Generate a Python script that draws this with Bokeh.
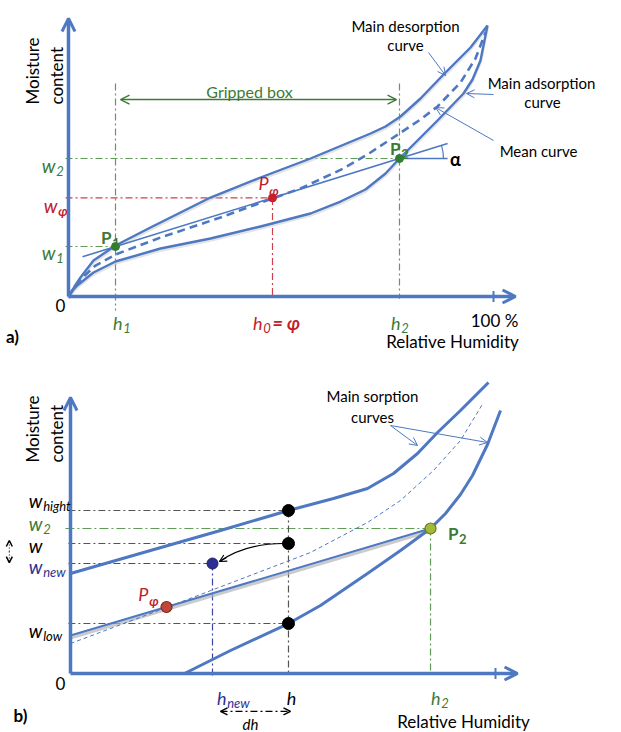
import math
from bokeh.plotting import figure
from bokeh.models import Range1d, Label, Arrow, OpenHead
from bokeh.layouts import column
from bokeh.embed import file_html
from bokeh.resources import INLINE

FONT = "Lato"
BLUE = "#4e78c2"
GREEN_T = "#3d7a35"
GREEN_L = "#5f9c55"
GREEN_P = "#2f7d32"
RED_T = "#c0202a"
RED_L = "#d0404c"
NAVY = "#2e3192"
NAVY_L = "#3d45a8"
GRAY_L = "#555555"
DASHDOT = "7 3 2 3"

# ---------------- Panel a data (x: relative humidity %, y: moisture content, a.u.)
a_rh_des = [0, 1.41, 2.82, 5.88, 11.06, 19.29, 33.41, 45.18, 56.94, 71.06, 74.59, 78.12, 82.82, 88.24, 94.59, 98.59]
a_w_des = [0, 2.35, 4.47, 8.47, 12.0, 16.24, 23.29, 28.0, 32.47, 38.35, 40.0, 42.35, 46.59, 52.24, 58.59, 63.76]
a_rh_ads = [0, 0.94, 2.35, 5.88, 11.06, 21.65, 33.41, 45.18, 56.94, 64.0, 69.88, 74.59, 77.88, 82.82, 86.82, 92.94, 95.06, 96.94, 98.59]
a_w_ads = [0, 1.41, 2.82, 5.65, 8.24, 11.29, 13.65, 16.47, 19.53, 22.35, 25.18, 28.94, 32.47, 37.41, 41.41, 47.76, 51.06, 55.53, 63.76]
a_rh_mean = [0, 1.41, 2.82, 6.35, 11.06, 21.65, 35.76, 48.0, 54.59, 64.71, 71.06, 77.88, 82.82, 86.82, 92.24, 95.76, 98.12]
a_w_mean = [0, 2.12, 4.0, 7.29, 9.88, 13.88, 18.59, 23.06, 25.41, 30.12, 33.88, 38.35, 41.65, 44.71, 50.35, 56.0, 62.12]
a_chord_rh = [3.3, 89.2]
a_chord_w = [9.35, 35.98]
a_P1 = (11.06, 11.76)
a_P2 = (77.88, 32.47)
a_Pphi = (48.0, 23.2)
a_alpha = 0.297          # slope angle of the chord (rad)
a_xmax = 105.18
a_ymax = 65.41

# ---------------- Panel b data
b_rh_des = [0, 18.82, 35.29, 51.29, 61.88, 69.88, 76.0, 81.65, 86.35, 91.76, 98.35]
b_w_des = [23.53, 28.94, 33.65, 38.35, 41.18, 43.53, 47.06, 51.76, 56.71, 61.88, 68.47]
b_rh_ads = [26.82, 37.65, 51.29, 58.82, 69.88, 77.65, 84.71, 88.24, 91.76, 94.59, 98.12, 101.18]
b_w_ads = [0, 5.41, 11.76, 16.0, 23.53, 28.94, 34.12, 37.65, 42.12, 46.59, 53.88, 61.88]
b_rh_mean = [0, 22.59, 33.65, 56.47, 69.88, 77.65, 85.41, 91.76, 97.18]
b_w_mean = [7.06, 15.53, 19.76, 28.47, 35.53, 40.71, 47.76, 54.82, 63.76]
b_chord_rh = [0, 84.71]
b_chord_w = [8.94, 34.12]
b_P2 = (84.71, 34.12)
b_Pphi = (22.59, 15.65)
b_h = 51.29
b_w_high = 38.35
b_w = 30.59
b_w_low = 11.76
b_h_new = 33.41
b_w_new = 25.88
b_xmax = 105.18
b_ymax = 64.94


def make_fig(h, xr, yr):
    p = figure(width=621, height=h, x_range=Range1d(*xr), y_range=Range1d(*yr),
               output_backend="svg", toolbar_location=None, min_border=0,
               x_axis_location=None, y_axis_location=None)
    p.grid.visible = False
    p.outline_line_color = None
    p.background_fill_color = "white"
    p.border_fill_color = "white"
    return p


def txt(p, x, y, s, size=17, color="black", style="normal", align="left",
        baseline="alphabetic", angle=0.0):
    p.add_layout(Label(x=x, y=y, text=s, text_font=FONT, text_font_size=f"{size}px",
                       text_color=color, text_font_style=style, text_align=align,
                       text_baseline=baseline, angle=angle))


def sub(p, x, y, main, s, color, mstyle="italic", sstyle="italic", size=19, ssize=13, drop=1.2):
    txt(p, x, y, main, size, color, mstyle, "right")
    txt(p, x + 0.15, y - drop, s, ssize, color, sstyle, "left")


def arrow(p, x0, y0, x1, y1, color, width=1.0, size=8, both=False, dash="solid", hw=None):
    hw = hw if hw is not None else width
    end = OpenHead(size=size, line_color=color, line_width=hw)
    start = OpenHead(size=size, line_color=color, line_width=hw) if both else None
    p.add_layout(Arrow(x_start=x0, y_start=y0, x_end=x1, y_end=y1, line_color=color,
                       line_width=width, line_dash=dash, end=end, start=start))


def shadow(vals, d):
    return [v - d for v in vals]


# =============== Panel a ===============
pa = make_fig(352, (-16.0, 130.118), (-13.176, 69.647))

# dash-dot guides
pa.line([a_P1[0], a_P1[0]], [50.12, -3.3], line_color=GREEN_L, line_width=1.2, line_dash=DASHDOT)
pa.line([a_P2[0], a_P2[0]], [50.12, -0.5], line_color=GREEN_L, line_width=1.2, line_dash=DASHDOT)
pa.line([-0.7, a_P2[0]], [a_P2[1], a_P2[1]], line_color=GREEN_L, line_width=1.2, line_dash=DASHDOT)
pa.line([-0.7, a_P1[0]], [a_P1[1], a_P1[1]], line_color=GREEN_L, line_width=1.2, line_dash=DASHDOT)
pa.line([-0.7, a_Pphi[0]], [a_Pphi[1], a_Pphi[1]], line_color=RED_L, line_width=1.2, line_dash=DASHDOT)
pa.line([a_Pphi[0], a_Pphi[0]], [a_Pphi[1], 0], line_color=RED_L, line_width=1.2, line_dash=DASHDOT)

# shadows
for xs, ys in ((a_rh_des, a_w_des), (a_rh_ads, a_w_ads)):
    pa.line(xs, shadow(ys, 0.45), line_color="#c9c9c9", line_width=3, line_alpha=0.5)

# curves
pa.line(a_rh_des, a_w_des, line_color=BLUE, line_width=2.4, line_join="round")
pa.line(a_rh_ads, a_w_ads, line_color=BLUE, line_width=2.4, line_join="round")
pa.line(a_rh_mean, a_w_mean, line_color=BLUE, line_width=2.6, line_dash="8 5")
pa.line(a_chord_rh, a_chord_w, line_color=BLUE, line_width=1.6)
pa.line([a_P2[0], a_chord_rh[1]], [a_P2[1], a_P2[1]], line_color=BLUE, line_width=1.4)
pa.arc(x=[a_P2[0]], y=[a_P2[1]], radius=10.35, start_angle=0, end_angle=a_alpha,
       line_color=BLUE, line_width=1.2)

# axes
arrow(pa, 0, 0, 0, a_ymax, BLUE, width=3.5, size=13, hw=3)
arrow(pa, 0, 0, a_xmax, 0, BLUE, width=3.5, size=13, hw=3)
pa.line([100, 100], [-1.3, 1.3], line_color=BLUE, line_width=2)

# gripped box
arrow(pa, 12.24, 46.35, 77.18, 46.35, GREEN_T, width=1.4, size=9, both=True)

# points
pa.scatter([a_P1[0], a_P2[0]], [a_P1[1], a_P2[1]], size=8, fill_color=GREEN_P, line_color=GREEN_P)
pa.scatter([a_Pphi[0]], [a_Pphi[1]], size=8, fill_color="#cc1f2b", line_color="#cc1f2b")

# annotation pointers
arrow(pa, 84.71, 57.41, 88.71, 52.0, BLUE, width=1, size=8)
arrow(pa, 100.0, 47.53, 93.65, 47.76, BLUE, width=1, size=8)
arrow(pa, 100.0, 36.71, 86.35, 44.47, BLUE, width=1, size=8)

# texts
txt(pa, -8.47, 45.18, "Moisture", 17, angle=math.pi / 2)
txt(pa, -2.82, 45.18, "content", 17, angle=math.pi / 2)
txt(pa, -1.88, -2.12, "0", 17, align="center", baseline="middle")
txt(pa, -13.18, -9.41, "a)", 17, style="bold", align="center", baseline="middle")
sub(pa, 12.71, -6.12, "h", "1", GREEN_T, size=18)
sub(pa, 45.65, -6.12, "h", "0", RED_T, size=18)
txt(pa, 48.0, -6.12, "= φ", 18, RED_T, "bold italic")
sub(pa, 78.12, -6.12, "h", "2", GREEN_T, size=18)
txt(pa, 100.24, -5.65, "100 %", 17, align="center")
txt(pa, 90.35, -10.6, "Relative Humidity", 17, align="center")
txt(pa, 42.59, 48.3, "Gripped box", 16, GREEN_T, align="center")
sub(pa, -3.06, 30.82, "w", "2", GREEN_T)
sub(pa, -2.59, 21.41, "w", "φ", RED_T, sstyle="bold italic")
sub(pa, -3.06, 10.35, "w", "1", GREEN_T)
sub(pa, 10.12, 13.88, "P", "1", GREEN_T, mstyle="bold", sstyle="bold", size=17)
sub(pa, 47.06, 26.82, "P", "φ", RED_T, sstyle="bold italic", size=18, drop=1.9)
sub(pa, 78.12, 34.82, "P", "2", GREEN_T, mstyle="bold", sstyle="bold", size=17)
txt(pa, 91.06, 32.24, "α", 18, style="bold", align="center")
txt(pa, 79.29, 63.76, "Main desorption", 15, align="center")
txt(pa, 79.29, 59.06, "curve", 15, align="center")
txt(pa, 111.29, 50.35, "Main adsorption", 15, align="center")
txt(pa, 111.53, 45.65, "curve", 15, align="center")
txt(pa, 110.59, 34.35, "Mean curve", 15, align="center")

# =============== Panel b ===============
pb = make_fig(380, (-16.471, 129.647), (-13.882, 75.529))

# dash-dot guides
pb.line([-0.5, b_h], [b_w_high, b_w_high], line_color=GRAY_L, line_width=1.2, line_dash=DASHDOT)
pb.line([-1.2, b_P2[0]], [b_P2[1], b_P2[1]], line_color=GREEN_L, line_width=1.2, line_dash="9 3 2 3")
pb.line([-0.5, b_h], [b_w, b_w], line_color=GRAY_L, line_width=1.2, line_dash=DASHDOT)
pb.line([-0.5, b_h_new], [b_w_new, b_w_new], line_color=NAVY_L, line_width=1.2, line_dash=DASHDOT)
pb.line([-0.5, b_h], [b_w_low, b_w_low], line_color=GRAY_L, line_width=1.2, line_dash=DASHDOT)
pb.line([b_h, b_h], [b_w_high, 0], line_color=GRAY_L, line_width=1.2, line_dash=DASHDOT)
pb.line([b_h_new, b_h_new], [b_w_new, -0.5], line_color=NAVY_L, line_width=1.2, line_dash=DASHDOT)
pb.line([b_P2[0], b_P2[0]], [b_P2[1], 0], line_color=GREEN_L, line_width=1.2, line_dash=DASHDOT)

# curves
pb.line(b_chord_rh, shadow(b_chord_w, 0.6), line_color="#b5b5b5", line_width=3.2, line_alpha=0.7)
pb.line(b_rh_des, b_w_des, line_color=BLUE, line_width=3, line_join="round")
pb.line(b_rh_ads, b_w_ads, line_color=BLUE, line_width=3, line_join="round")
pb.line(b_rh_mean, b_w_mean, line_color=BLUE, line_width=1, line_dash="4 3")
pb.line(b_chord_rh, b_chord_w, line_color=BLUE, line_width=2)

# axes
arrow(pb, 0, 0, 0, b_ymax, BLUE, width=3.5, size=13, hw=3)
arrow(pb, 0, 0, b_xmax, 0, BLUE, width=3.5, size=13, hw=3)
pb.line([100, 100], [-1.3, 1.3], line_color=BLUE, line_width=2)

# curved move arrow w -> w_new
pb.quadratic(x0=[50.12], y0=[30.59], x1=[35.06], y1=[26.35], cx=[41.18], cy=[30.59],
             line_color="black", line_width=1.2)
arrow(pb, 36.7, 27.3, 35.06, 26.35, "black", width=1.2, size=7)

# dh arrow
arrow(pb, 35.29, -8.9, 51.76, -8.9, "black", width=1.2, size=7, both=True, dash=DASHDOT, hw=1.5)
# small dw arrow on the left
arrow(pb, -14.4, 28.7, -14.4, 31.3, "black", width=1, size=6, dash="1 2", hw=1.5)
arrow(pb, -14.4, 28.7, -14.4, 26.1, "black", width=1, size=6, dash="1 2", hw=1.5)

# points
pb.scatter([b_h, b_h, b_h], [b_w_high, b_w, b_w_low], size=12, fill_color="black", line_color="black")
pb.scatter([b_h_new], [b_w_new], size=11, fill_color="#2b2f8f", line_color="#1e2270")
pb.scatter([b_Pphi[0]], [b_Pphi[1]], size=11, fill_color="#c0453a", line_color="#7a2a20", line_width=1.2)
pb.scatter([b_P2[0]], [b_P2[1]], size=11, fill_color="#a4b83a", line_color="#6b7a1f", line_width=1.2)

# pointers
arrow(pb, 75.29, 58.35, 81.65, 53.65, BLUE, width=1, size=8)
arrow(pb, 75.29, 58.35, 98.12, 54.35, BLUE, width=1, size=8)

# texts
txt(pb, -8.94, 49.65, "Moisture", 17, angle=math.pi / 2)
txt(pb, -3.29, 49.65, "content", 17, angle=math.pi / 2)
txt(pb, -2.35, -2.35, "0", 17, align="center", baseline="middle")
txt(pb, -11.76, -9.88, "b)", 17, style="bold", align="center", baseline="middle")
sub(pb, -6.59, 40.71, "w", "hight", "black")
sub(pb, -6.59, 35.29, "w", "2", GREEN_T)
txt(pb, -6.59, 30.12, "w", 19, "black", "italic", "right")
sub(pb, -6.59, 25.18, "w", "new", NAVY)
sub(pb, -6.59, 10.12, "w", "low", "black")
sub(pb, 18.35, 18.82, "P", "φ", RED_T, sstyle="bold italic", size=18, drop=1.7)
sub(pb, 91.29, 32.94, "P", "2", GREEN_T, mstyle="bold", sstyle="bold", size=17)
sub(pb, 36.71, -5.65, "h", "new", NAVY, size=18)
txt(pb, 52.0, -5.65, "h", 18, "black", "italic", "center")
sub(pb, 87.06, -5.65, "h", "2", GREEN_T, size=18)
txt(pb, 42.35, -9.7, "dh", 15, "black", "italic", "center", "top")
txt(pb, 92.47, -11.3, "Relative Humidity", 17, align="center")
txt(pb, 71.06, 65.41, "Main sorption", 15, align="center")
txt(pb, 71.06, 60.24, "curves", 15, align="center")

layout = column(pa, pb, spacing=0)
open("out.html", "w").write(file_html(layout, INLINE))
